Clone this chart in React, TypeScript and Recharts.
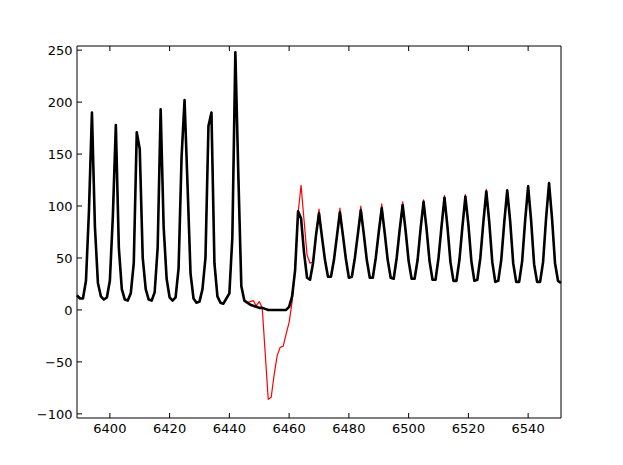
import { LineChart, Line, XAxis, YAxis } from "recharts";

// x runs one sample per unit, starting here
const X_START = 6389;
const X_END = 6551;

const xTicks = [6400, 6420, 6440, 6460, 6480, 6500, 6520, 6540];
const yTicks = [-100, -50, 0, 50, 100, 150, 200, 250];

// thick black trace
const blackTrace = [
  14, 11, 11, 28, 95, 190, 80, 26, 13, 10,
  12, 28, 90, 178, 60, 20, 10, 9, 16, 45,
  171, 155, 50, 20, 10, 9, 17, 60, 193, 80,
  30, 12, 9, 12, 40, 147, 202, 120, 35, 11,
  7, 8, 20, 50, 177, 190, 45, 13, 7, 6,
  11, 16, 70, 248, 130, 23, 9, 7, 5, 4,
  3, 2, 2, 1, 0, 0, 0, 0, 0, 0,
  0,
  3, 13, 38, 95, 88, 55, 31, 29, 45, 72,
  93, 70, 48, 32, 32, 48, 71,
  94, 72, 49, 31, 32, 50, 73,
  96, 73, 48, 31, 31, 50, 75,
  98, 74, 48, 31, 30, 50, 77,
  101, 76, 47, 30, 30, 48, 78,
  104, 78, 47, 29, 29, 50, 80,
  108, 80, 46, 28, 28, 48, 80,
  109, 82, 47, 28, 29, 50, 84,
  114, 84, 46, 27, 28, 48, 84,
  115, 85, 45, 27, 27, 47, 86,
  119, 86, 44, 27, 27, 46, 88,
  122, 88, 45, 28, 26,
];

// thin red trace (mostly hidden under the black one)
const redTrace = [
  14, 11, 11, 28, 95, 190, 80, 26, 13, 10,
  12, 28, 90, 178, 60, 20, 10, 9, 16, 45,
  171, 155, 50, 20, 10, 9, 17, 60, 193, 80,
  30, 12, 9, 12, 40, 147, 202, 120, 35, 11,
  7, 8, 20, 50, 177, 190, 45, 13, 7, 6,
  11, 16, 70, 248, 130, 23, 9, 7, 8, 9,
  4, 8, 2, -42, -86, -84, -62, -44, -36, -35,
  -23,
  -12, 8, 41, 93, 120, 86, 53, 45, 46, 72,
  97, 70, 48, 32, 32, 48, 71,
  98, 72, 49, 31, 32, 50, 73,
  100, 73, 48, 31, 31, 50, 75,
  102, 74, 48, 31, 30, 50, 77,
  104, 76, 47, 30, 30, 48, 78,
  106, 78, 47, 29, 29, 50, 80,
  110, 80, 46, 28, 28, 48, 80,
  111, 82, 47, 28, 29, 50, 84,
  116, 84, 46, 27, 28, 48, 84,
  116, 85, 45, 27, 27, 47, 86,
  120, 86, 44, 27, 27, 46, 88,
  122, 88, 45, 28, 26,
];

const data = blackTrace.map((v, i) => ({ x: X_START + i, black: v, red: redTrace[i] }));

const fmt = (v: number) => (v < 0 ? "\u2212" + Math.abs(v) : String(v));

const FONT = "DejaVu Sans";
const TICK_LEN = 5;

// matplotlib-style ticks: pointing into the plot
const BottomTick = (p: any) => (
  <g>
    <line x1={p.x} y1={p.y} x2={p.x} y2={p.y - TICK_LEN} stroke="#000" />
    <text x={p.x} y={p.y + 15} textAnchor="middle" fontSize={13} fontFamily={FONT} fill="#000">
      {fmt(p.payload.value)}
    </text>
  </g>
);
const TopTick = (p: any) => (
  <line x1={p.x} y1={p.y} x2={p.x} y2={p.y + TICK_LEN} stroke="#000" />
);
const LeftTick = (p: any) => (
  <g>
    <line x1={p.x} y1={p.y} x2={p.x + TICK_LEN} y2={p.y} stroke="#000" />
    <text x={p.x - 4.5} y={p.y + 4.7} textAnchor="end" fontSize={13} fontFamily={FONT} fill="#000">
      {fmt(p.payload.value)}
    </text>
  </g>
);
const RightTick = (p: any) => (
  <line x1={p.x} y1={p.y} x2={p.x - TICK_LEN} y2={p.y} stroke="#000" />
);

export default function App() {
  return (
    <div style={{ position: "absolute", left: 0, top: 0, width: 623, height: 465, background: "#fff" }}>
      <LineChart width={623} height={465} data={data} margin={{ top: 45, right: 61, bottom: 0, left: 0 }}>
        <XAxis
          dataKey="x"
          type="number"
          domain={[X_START, X_END]}
          ticks={xTicks}
          height={47}
          tickSize={0}
          tickMargin={0}
          tickLine={false}
          stroke="#000"
          tick={BottomTick}
        />
        <XAxis
          xAxisId="top"
          orientation="top"
          dataKey="x"
          type="number"
          domain={[X_START, X_END]}
          ticks={xTicks}
          height={1}
          tickSize={0}
          tickMargin={0}
          tickLine={false}
          stroke="#000"
          tick={TopTick}
        />
        <YAxis
          type="number"
          domain={[-104, 254]}
          ticks={yTicks}
          width={77}
          tickSize={0}
          tickMargin={0}
          tickLine={false}
          stroke="#000"
          tick={LeftTick}
        />
        <YAxis
          yAxisId="right"
          orientation="right"
          type="number"
          domain={[-104, 254]}
          ticks={yTicks}
          width={1}
          tickSize={0}
          tickMargin={0}
          tickLine={false}
          stroke="#000"
          tick={RightTick}
        />
        <Line
          dataKey="red"
          type="linear"
          stroke="#ff0000"
          strokeWidth={1.2}
          strokeLinejoin="round"
          dot={false}
          isAnimationActive={false}
        />
        <Line
          dataKey="black"
          type="linear"
          stroke="#000"
          strokeWidth={2.6}
          strokeLinejoin="round"
          dot={false}
          isAnimationActive={false}
        />
      </LineChart>
    </div>
  );
}
